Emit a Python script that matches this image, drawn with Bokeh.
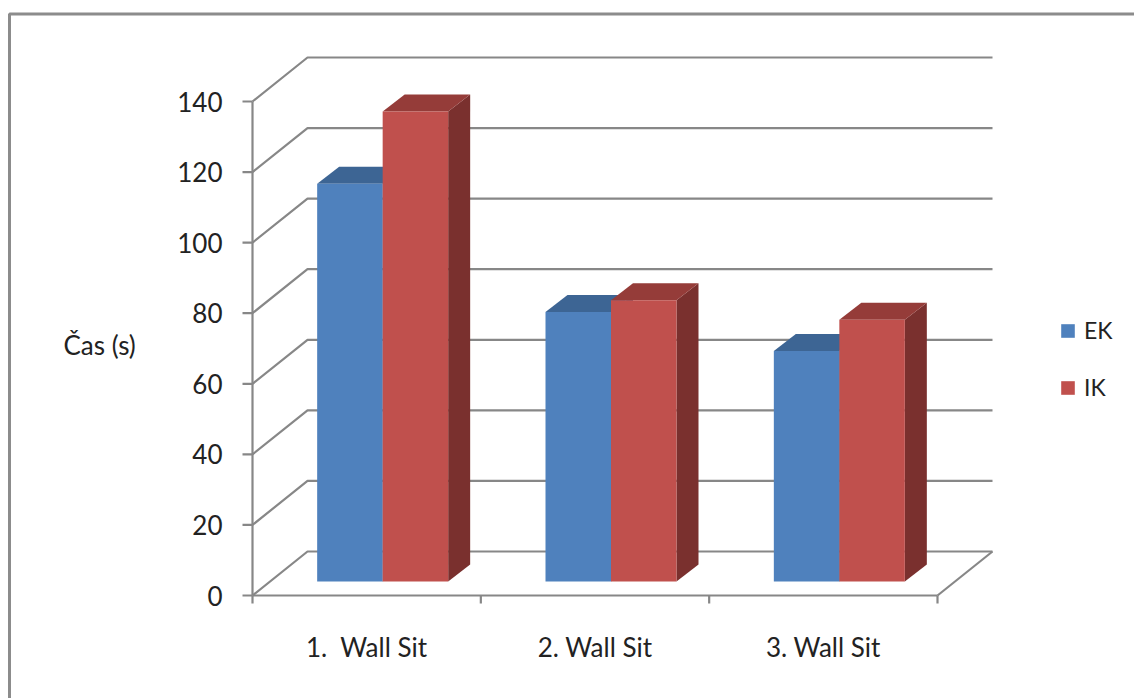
from bokeh.plotting import figure
from bokeh.models import ColumnDataSource, Range1d, Legend, LegendItem
from bokeh.core.properties import value
from bokeh.embed import file_html
from bokeh.resources import INLINE

# ---- data -------------------------------------------------------------
categories = ["1.\u00a0 Wall Sit", "2. Wall Sit", "3. Wall Sit"]
series_names = ["EK", "IK"]
ek_values = [112.7, 76.4, 65.3]
ik_values = [133.2, 79.7, 74.2]
y_ticks = [0, 20, 40, 60, 80, 100, 120, 140]
y_title = "Čas (s)"

# ---- page geometry (pixels) -------------------------------------------
W, H = 1134, 698
AX_LEFT, AX_RIGHT = 252, 937      # front edge of the floor
AX_ZERO, AX_TOP = 595, 101        # front value axis, 0 .. top tick
DEPTH_PX = (55, 44)               # receding direction of the box
BAR_W_PX = 65.5                   # width of one bar's front face
BAR_SHIFT_PX = (16, 14)           # bars sit a little behind the front plane
BAR_DEPTH_PX = (22, 17)           # thickness of each bar

n = len(categories)
UX = (AX_RIGHT - AX_LEFT) / n
UY = (AX_ZERO - AX_TOP) / y_ticks[-1]


def dx(px):
    return px / UX


def dy(px):
    return px / UY


def sx(px):
    return (px - AX_LEFT) / UX


def sy(px):
    return (AX_ZERO - px) / UY


GRID = "#878787"
TEXT = "#222222"
FONT_NAME = "Lato"
FONT = value(FONT_NAME)

p = figure(width=W, height=H,
           x_range=Range1d(sx(0), sx(W)), y_range=Range1d(sy(H), sy(0)),
           x_axis_type=None, y_axis_type=None, min_border=0,
           toolbar_location=None, output_backend="svg",
           outline_line_color=None, background_fill_color="white",
           border_fill_color="white")

# outer chart-area border (top and left edges)
p.line([sx(9), sx(9), sx(W + 5)], [sy(H + 5), sy(13.5), sy(13.5)],
       line_color="#8c8c8c", line_width=3)

# ---- walls: gridlines on the back wall, receding lines on the side ----
DX, DY = dx(DEPTH_PX[0]), dy(DEPTH_PX[1])
grid_xs, grid_ys = [], []
for v in y_ticks:
    grid_xs.append([0, DX, n + DX])
    grid_ys.append([v, v + DY, v + DY])
grid_xs.append([n, n + DX])
grid_ys.append([0, DY])
p.multi_line(grid_xs, grid_ys, line_color=GRID, line_width=2.2)

# ---- axes ---------------------------------------------------------------
p.line([0, 0], [0, y_ticks[-1]], line_color=GRID, line_width=2.2)
p.line([0, n], [0, 0], line_color=GRID, line_width=2.2)
p.segment(x0=[dx(-10)] * len(y_ticks), y0=y_ticks,
          x1=[0] * len(y_ticks), y1=y_ticks, line_color=GRID, line_width=2.2)
bounds = list(range(n + 1))
p.segment(x0=bounds, y0=[0] * len(bounds), x1=bounds,
          y1=[dy(-8)] * len(bounds), line_color=GRID, line_width=2.2)

p.text(x=[dx(-30)] * len(y_ticks), y=y_ticks, text=[str(t) for t in y_ticks],
       text_align="right", text_baseline="middle", text_font=FONT,
       text_font_size="26px", text_color=TEXT)
p.text(x=[i + 0.5 for i in range(n)], y=[sy(646)] * n, text=categories,
       text_align="center", text_baseline="middle", text_font=FONT,
       text_font_size="26px", text_color=TEXT)
p.text(x=[sx(63)], y=[sy(344)], text=[y_title], text_align="left",
       text_baseline="middle", text_font=FONT, text_font_size="26px",
       text_color=TEXT)

# ---- 3-D bars -------------------------------------------------------------
BW = dx(BAR_W_PX)
FX, FY = dx(BAR_SHIFT_PX[0]), dy(BAR_SHIFT_PX[1])
BX, BY = dx(BAR_DEPTH_PX[0]), dy(BAR_DEPTH_PX[1])


def bar_faces(values, offset):
    front = dict(xs=[], ys=[])
    top = dict(xs=[], ys=[])
    side = dict(xs=[], ys=[])
    for i, v in enumerate(values):
        left = i + 0.5 + offset * BW + FX
        right = left + BW
        bottom = FY
        tip = FY + v
        front["xs"].append([left, right, right, left])
        front["ys"].append([bottom, bottom, tip, tip])
        top["xs"].append([left, right, right + BX, left + BX])
        top["ys"].append([tip, tip, tip + BY, tip + BY])
        side["xs"].append([right, right + BX, right + BX, right])
        side["ys"].append([bottom, bottom + BY, tip + BY, tip])
    return (ColumnDataSource(front), ColumnDataSource(top),
            ColumnDataSource(side))


series = [
    (ek_values, -1, "#4F81BD", "#3D6594", "#385D8A"),
    (ik_values, 0, "#C0504D", "#953C39", "#7A302E"),
]
front_renderers = []
for vals, off, c_front, c_top, c_side in series:
    f_src, t_src, s_src = bar_faces(vals, off)
    p.patches("xs", "ys", source=s_src, fill_color=c_side, line_color=None)
    p.patches("xs", "ys", source=t_src, fill_color=c_top, line_color=None)
    front_renderers.append(
        p.patches("xs", "ys", source=f_src, fill_color=c_front, line_color=None))

legend = Legend(
    items=[LegendItem(label=name, renderers=[r])
           for name, r in zip(series_names, front_renderers)],
    location=(1059, 297), padding=0, margin=0, spacing=29,
    glyph_width=17, glyph_height=17, label_standoff=8,
    label_text_font=FONT_NAME, label_text_font_size="23px",
    label_text_color=TEXT, border_line_color=None,
    background_fill_alpha=0)
p.add_layout(legend)

open("out.html", "w").write(file_html(p, INLINE))
